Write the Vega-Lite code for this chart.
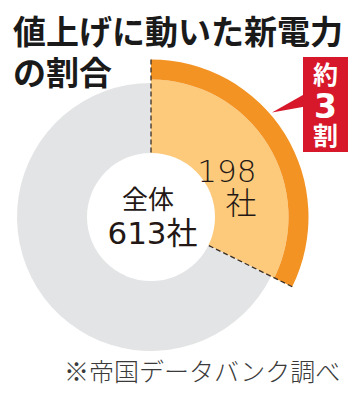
{
  "$schema": "https://vega.github.io/schema/vega-lite/v6.json",
  "autosize": {"type": "none"},
  "padding": {"left": 0, "top": 34, "right": 61, "bottom": 0},
  "width": 302,
  "height": 366,
  "background": "#ffffff",
  "config": {"view": {"stroke": null}},
  "title": {
    "text": ["値上げに動いた新電力", "の割合"],
    "anchor": "start",
    "frame": "group",
    "offset": -58,
    "dx": 13,
    "font": "Noto Sans CJK JP",
    "fontSize": 33,
    "lineHeight": 41,
    "fontWeight": "bold",
    "color": "#1a1a1a"
  },
  "datasets": {
    "share": [
      {"category": "値上げした", "value": 198, "label": "198\n社"},
      {"category": "その他", "value": 415, "label": ""}
    ],
    "edges": [
      {"edge": 0},
      {"edge": 198}
    ],
    "total": [
      {"start": 0, "total": 613}
    ]
  },
  "layer": [
    {
      "data": {"name": "share"},
      "mark": {"type": "arc", "outerRadius": 134},
      "encoding": {
        "theta": {"field": "value", "type": "quantitative", "stack": true},
        "order": {"field": "value", "type": "quantitative", "sort": "ascending"},
        "color": {"field": "category", "type": "nominal", "scale": {"domain": ["値上げした", "その他"], "range": ["#fdca7c", "#e3e4e5"]}, "legend": null}
      }
    },
    {
      "data": {"name": "share"},
      "transform": [{"filter": {"field": "category", "equal": "値上げした"}}],
      "mark": {"type": "arc", "innerRadius": 120, "outerRadius": 137.5, "color": "#fdca7c"},
      "encoding": {"theta": {"field": "value", "type": "quantitative", "stack": true}}
    },
    {
      "data": {"name": "share"},
      "transform": [{"filter": {"field": "category", "equal": "値上げした"}}],
      "mark": {"type": "arc", "innerRadius": 137.5, "outerRadius": 157.5, "color": "#f39324"},
      "encoding": {"theta": {"field": "value", "type": "quantitative", "stack": true}}
    },
    {
      "data": {"name": "edges"},
      "mark": {"type": "arc", "innerRadius": 59, "outerRadius": 157.5, "filled": false, "stroke": "#3a2e25", "strokeWidth": 1.3, "strokeDash": [5, 3]},
      "encoding": {
        "theta": {"field": "edge", "type": "quantitative", "stack": null},
        "theta2": {"field": "edge"}
      }
    },
    {
      "data": {"name": "total"},
      "mark": {"type": "arc", "outerRadius": 64, "color": "#ffffff"},
      "encoding": {
        "theta": {"field": "start", "type": "quantitative", "stack": null},
        "theta2": {"field": "total"}
      }
    },
    {
      "data": {"name": "share"},
      "mark": {"type": "text", "radius": 90, "align": "right", "baseline": "middle", "dx": 29, "dy": 3.5, "lineBreak": "\n", "lineHeight": 32, "font": "DejaVu Sans, Noto Sans CJK JP", "fontSize": 31, "fontWeight": 300, "color": "#231815"},
      "encoding": {
        "theta": {"field": "value", "type": "quantitative", "stack": true},
        "order": {"field": "value", "type": "quantitative", "sort": "ascending"},
        "text": {"field": "label"}
      }
    },
    {
      "data": {"values": [{"t": "全体"}]},
      "mark": {"type": "text", "align": "center", "baseline": "middle", "font": "Noto Sans CJK JP", "fontSize": 26, "color": "#231815"},
      "encoding": {
        "x": {"datum": -3, "type": "quantitative", "scale": {"domain": [-151, 151], "nice": false, "zero": false}, "axis": null},
        "y": {"datum": 16, "type": "quantitative", "scale": {"domain": [-183, 183], "nice": false, "zero": false}, "axis": null},
        "text": {"field": "t"}
      }
    },
    {
      "data": {"values": [{"t": "613社"}]},
      "mark": {"type": "text", "align": "center", "baseline": "middle", "font": "DejaVu Sans, Noto Sans CJK JP", "fontSize": 31, "color": "#231815"},
      "encoding": {
        "x": {"datum": 1.5, "type": "quantitative", "scale": {"domain": [-151, 151], "nice": false, "zero": false}, "axis": null},
        "y": {"datum": -18, "type": "quantitative", "scale": {"domain": [-183, 183], "nice": false, "zero": false}, "axis": null},
        "text": {"field": "t"}
      }
    },
    {
      "data": {"values": [{"t": "約3割"}]},
      "mark": {"type": "arc", "outerRadius": 38, "theta": 1.058, "theta2": 1.394, "color": "#d7182a"},
      "encoding": {
        "x": {"datum": 121, "type": "quantitative", "stack": null, "scale": {"domain": [-151, 151], "nice": false, "zero": false}, "axis": null},
        "y": {"datum": 104.5, "type": "quantitative", "stack": null, "scale": {"domain": [-183, 183], "nice": false, "zero": false}, "axis": null}
      }
    },
    {
      "data": {"values": [{"t": "約3割"}]},
      "mark": {"type": "rect", "color": "#d7182a"},
      "encoding": {
        "x": {"datum": 152, "type": "quantitative", "scale": {"domain": [-151, 151], "nice": false, "zero": false}, "axis": null},
        "x2": {"datum": 197},
        "y": {"datum": 160, "type": "quantitative", "scale": {"domain": [-183, 183], "nice": false, "zero": false}, "axis": null},
        "y2": {"datum": 65}
      }
    },
    {
      "data": {"values": [{"t": "約"}]},
      "mark": {"type": "text", "align": "center", "baseline": "middle", "font": "Noto Sans CJK JP", "fontSize": 25, "fontWeight": "bold", "color": "#ffffff"},
      "encoding": {
        "x": {"datum": 174.5, "type": "quantitative", "scale": {"domain": [-151, 151], "nice": false, "zero": false}, "axis": null},
        "y": {"datum": 141, "type": "quantitative", "scale": {"domain": [-183, 183], "nice": false, "zero": false}, "axis": null},
        "text": {"field": "t"}
      }
    },
    {
      "data": {"values": [{"t": "3"}]},
      "mark": {"type": "text", "align": "center", "baseline": "middle", "font": "DejaVu Sans", "fontSize": 33, "fontWeight": "bold", "color": "#ffffff"},
      "encoding": {
        "x": {"datum": 174.5, "type": "quantitative", "scale": {"domain": [-151, 151], "nice": false, "zero": false}, "axis": null},
        "y": {"datum": 109, "type": "quantitative", "scale": {"domain": [-183, 183], "nice": false, "zero": false}, "axis": null},
        "text": {"field": "t"}
      }
    },
    {
      "data": {"values": [{"t": "割"}]},
      "mark": {"type": "text", "align": "center", "baseline": "middle", "font": "Noto Sans CJK JP", "fontSize": 25, "fontWeight": "bold", "color": "#ffffff"},
      "encoding": {
        "x": {"datum": 174.5, "type": "quantitative", "scale": {"domain": [-151, 151], "nice": false, "zero": false}, "axis": null},
        "y": {"datum": 80, "type": "quantitative", "scale": {"domain": [-183, 183], "nice": false, "zero": false}, "axis": null},
        "text": {"field": "t"}
      }
    },
    {
      "data": {"values": [{"t": "※帝国データバンク調べ"}]},
      "mark": {"type": "text", "align": "center", "baseline": "middle", "font": "Noto Sans CJK JP", "fontSize": 25, "fontWeight": 300, "color": "#3a3a3a"},
      "encoding": {
        "x": {"datum": 51, "type": "quantitative", "scale": {"domain": [-151, 151], "nice": false, "zero": false}, "axis": null},
        "y": {"datum": -156, "type": "quantitative", "scale": {"domain": [-183, 183], "nice": false, "zero": false}, "axis": null},
        "text": {"field": "t"}
      }
    }
  ]
}
